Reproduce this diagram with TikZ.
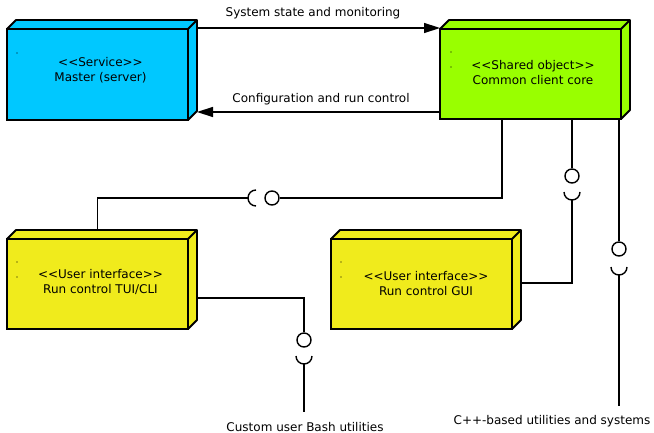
\documentclass[tikz,border=0pt]{standalone}
\usepackage{fontspec}
\setmainfont{DejaVu Sans}
\usetikzlibrary{calc,arrows.meta}
\definecolor{svc}{RGB}{0,200,255}
\definecolor{shr}{RGB}{153,255,0}
\definecolor{uic}{RGB}{240,235,28}
\newcommand\lguil{<\kern0pt<}
\newcommand\rguil{>\kern0pt>}
\newcommand\boxdepth[2]{%
  \draw[line width=1.8pt, fill=#2, line join=round]
    (#1.north west) -- ++(9,-9) -- ($(#1.north east)+(9,-9)$) -- ($(#1.south east)+(9,-9)$)
    -- (#1.south east) -- (#1.north east) -- cycle;
  \draw[line width=1.8pt] (#1.north east) -- ++(9,-9);
}
\tikzset{
  nodebox/.style={draw, line width=1.8pt, minimum width=181pt, minimum height=90pt,
    inner sep=0pt, outer sep=0pt, fill=#1},
  txt/.style={font=\fontsize{12}{15}\selectfont, align=center, inner sep=0pt},
  wire/.style={line width=1.4pt},
  arr/.style={wire, -{Triangle[length=16pt,width=10pt]}},
  ball/.style={circle, draw, line width=1.4pt, minimum size=14pt, inner sep=0pt, fill=white},
  dotmark/.style={fill=black},
}
\begin{document}
\begin{tikzpicture}[x=1pt,y=-1pt]
\fill[white] (0,0) rectangle (654,433);
\useasboundingbox (0,0) rectangle (654,433);

% nodes
\node[nodebox=svc, minimum height=91pt] (m) at (97.5,74.5) {};
\boxdepth{m}{svc}
\node[nodebox=shr] (c) at (530.5,74) {};
\boxdepth{c}{shr}
\node[nodebox=uic] (t) at (97.5,284) {};
\boxdepth{t}{uic}
\node[nodebox=uic] (g) at (421.5,284) {};
\boxdepth{g}{uic}

% texts in boxes
\node[txt] (mt) at (100.5,70.5) {\lguil Service\rguil\\Master (server)};
\node[txt] (ct) at (533,72.5) {\lguil Shared object\rguil\\Common client core};
\node[txt] (tt) at (100.5,282) {\lguil User interface\rguil\\Run control TUI/CLI};
\node[txt] (gt) at (426,284) {\lguil User interface\rguil\\Run control GUI};

% small dots
\fill[dotmark] (17,53) circle (0.6pt);
\fill[dotmark] (451,52) circle (0.6pt);
\fill[dotmark] (451,67) circle (0.6pt);
\fill[dotmark] (17,262) circle (0.6pt);
\fill[dotmark] (17,277) circle (0.6pt);
\fill[dotmark] (341,262) circle (0.6pt);
\fill[dotmark] (341,277) circle (0.6pt);

% arrows between master and core
\coordinate (mR) at ($(m.east)+(9,0)$);
\draw[arr] (mR |- 0,28) -- (c.west |- 0,28);
\draw[arr] (c.west |- 0,112) -- (mR |- 0,112);
\node[txt] (l1) at (313,13) {System state and monitoring};
\node[txt] (l2) at (321,99) {Configuration and run control};

% TUI to core
\coordinate (tT) at ($(t.north)+(0,-9)$);
\coordinate (s1) at (256,198);
\node[ball] (b1) at (272,198) {};
\coordinate (j1) at (502,198);
\draw[wire] (tT) |- ($(s1)+(-8,0)$);
\draw[wire] ($(s1)+(0,8)$) arc[start angle=90,end angle=270,radius=8];
\draw[wire] (b1) -| (j1 |- c.south);

% GUI to core
\coordinate (gR) at ($(g.east)+(9,-1)$);
\coordinate (s2) at (572,192);
\node[ball] (b2) at (572,176) {};
\draw[wire] (gR) -| ($(s2)+(0,8)$);
\draw[wire] ($(s2)+(8,0)$) arc[start angle=0,end angle=180,radius=8];
\draw[wire] (b2) -- (b2 |- c.south);

% C++ utilities
\node[ball] (b3) at (619,249) {};
\coordinate (s3) at (619,267);
\coordinate (e3) at (619,406);
\draw[wire] (b3) -- (b3 |- c.south);
\draw[wire] ($(s3)+(8,0)$) arc[start angle=0,end angle=180,radius=8];
\draw[wire] ($(s3)+(0,8)$) -- (e3);
\node[txt] (l4) at (552,421) {C++-based utilities and systems};

% Bash utilities
\coordinate (tR) at ($(t.east)+(9,14)$);
\node[ball] (b4) at (304,340) {};
\coordinate (s4) at (304,356);
\coordinate (e4) at (304,412);
\draw[wire] (tR) -| (b4);
\draw[wire] ($(s4)+(8,0)$) arc[start angle=0,end angle=180,radius=8];
\draw[wire] ($(s4)+(0,8)$) -- (e4);
\node[txt] (l3) at (305,427) {Custom user Bash utilities};
\end{tikzpicture}
\end{document}
